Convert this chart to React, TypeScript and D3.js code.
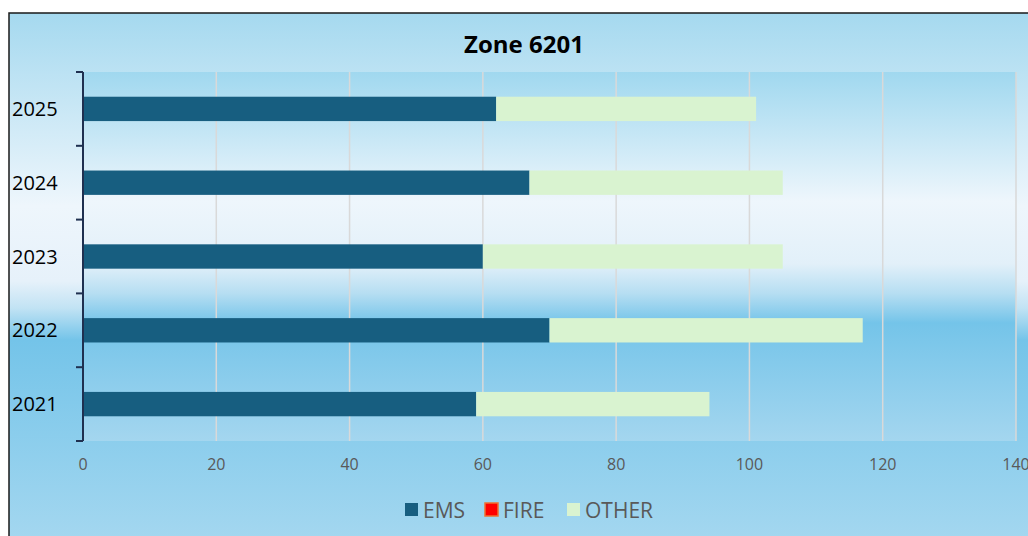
import { useEffect, useRef } from "react";
import * as d3 from "d3";

// data
const years = ["2021", "2022", "2023", "2024", "2025"];
const ems = [59, 70, 60, 67, 62];
const fire = [0, 0, 0, 0, 0];
const other = [35, 47, 45, 38, 39];
const xTicks = [0, 20, 40, 60, 80, 100, 120, 140];

const seriesNames = ["EMS", "FIRE", "OTHER"];
const seriesColors = ["#175e80", "#ff0000", "#d9f3d0"];

const W = 1028;
const H = 536;
const plot = { left: 83, right: 1016, top: 72, bottom: 441 };

function App() {
    const svgRef = useRef<SVGSVGElement>(null);

    useEffect(() => {
        const svg = d3.select(svgRef.current);
        svg.selectAll("*").remove();

        // ---------- gradients ----------
        const defs = svg.append("defs");
        const addGrad = (id: string, stops: [number, string][]) => {
            const g = defs
                .append("linearGradient")
                .attr("id", id)
                .attr("x1", 0)
                .attr("y1", 0)
                .attr("x2", 0)
                .attr("y2", 1);
            stops.forEach(([o, c]) => g.append("stop").attr("offset", o).attr("stop-color", c));
        };
        addGrad("bgGrad", [
            [0, "#a5d9ef"],
            [0.36, "#eef6fc"],
            [0.5, "#e6f1fa"],
            [0.55, "#c2e3f4"],
            [0.61, "#74c4e9"],
            [1, "#a6d8f0"],
        ]);
        addGrad("plotGrad", [
            [0, "#a0d8ef"],
            [0.35, "#eef6fc"],
            [0.52, "#e2f0f9"],
            [0.6, "#b6def2"],
            [0.68, "#74c4e9"],
            [1, "#a4d6ef"],
        ]);

        // chart background + border
        svg.append("rect")
            .attr("x", 9)
            .attr("y", 13)
            .attr("width", W + 10)
            .attr("height", H)
            .attr("fill", "url(#bgGrad)")
            .attr("stroke", "#1a1a1a")
            .attr("stroke-width", 1.5);

        // plot area
        svg.append("rect")
            .attr("x", plot.left)
            .attr("y", plot.top)
            .attr("width", plot.right - plot.left)
            .attr("height", plot.bottom - plot.top)
            .attr("fill", "url(#plotGrad)");

        // ---------- scales ----------
        const x = d3.scaleLinear().domain([0, 140]).range([plot.left, plot.right]);
        const y = d3
            .scaleBand()
            .domain(years.slice().reverse())
            .range([plot.top, plot.bottom])
            .paddingInner(0.67)
            .paddingOuter(0.335);

        // gridlines
        svg.append("g")
            .selectAll("line")
            .data(xTicks.slice(1))
            .enter()
            .append("line")
            .attr("x1", (d) => x(d))
            .attr("x2", (d) => x(d))
            .attr("y1", plot.top)
            .attr("y2", plot.bottom)
            .attr("stroke", "#d9d9d9")
            .attr("stroke-width", 1.5);

        // ---------- stacked bars ----------
        const rows = years.map((yr, i) => ({ year: yr, EMS: ems[i], FIRE: fire[i], OTHER: other[i] }));
        const stacked = d3.stack<any>().keys(seriesNames)(rows);

        svg.append("g")
            .selectAll("g")
            .data(stacked)
            .enter()
            .append("g")
            .attr("fill", (_d, i) => seriesColors[i])
            .selectAll("rect")
            .data((d) => d)
            .enter()
            .append("rect")
            .attr("x", (d) => x(d[0]))
            .attr("y", (d) => y(d.data.year) as number)
            .attr("width", (d) => x(d[1]) - x(d[0]))
            .attr("height", y.bandwidth());

        // ---------- x axis labels ----------
        svg.append("g")
            .selectAll("text")
            .data(xTicks)
            .enter()
            .append("text")
            .attr("x", (d) => x(d))
            .attr("y", 470)
            .attr("text-anchor", "middle")
            .attr("font-family", "'Open Sans', sans-serif")
            .attr("font-size", 16)
            .attr("fill", "#595959")
            .text((d) => d);

        // ---------- y axis ----------
        const yAxis = svg.append("g").attr("stroke", "#1f3050").attr("stroke-width", 2);
        yAxis.append("line")
            .attr("x1", plot.left)
            .attr("x2", plot.left)
            .attr("y1", plot.top)
            .attr("y2", plot.bottom);
        const step = (plot.bottom - plot.top) / years.length;
        yAxis.selectAll("line.tick")
            .data(d3.range(years.length + 1))
            .enter()
            .append("line")
            .attr("class", "tick")
            .attr("x1", plot.left - 7)
            .attr("x2", plot.left)
            .attr("y1", (d) => plot.top + d * step)
            .attr("y2", (d) => plot.top + d * step);

        svg.append("g")
            .selectAll("text")
            .data(years)
            .enter()
            .append("text")
            .attr("x", 12)
            .attr("y", (d) => (y(d) as number) + y.bandwidth() / 2)
            .attr("dy", "0.35em")
            .attr("font-family", "'Open Sans', sans-serif")
            .attr("font-size", 20)
            .attr("fill", "#000")
            .text((d) => d);

        // ---------- title ----------
        svg.append("text")
            .attr("x", 524)
            .attr("y", 53)
            .attr("text-anchor", "middle")
            .attr("font-family", "'Open Sans', sans-serif")
            .attr("font-weight", "bold")
            .attr("font-size", 24)
            .attr("fill", "#000")
            .text("Zone 6201");

        // ---------- legend ----------
        const legendX = [405, 485, 567];
        const lg = svg.append("g")
            .selectAll("g")
            .data(seriesNames)
            .enter()
            .append("g")
            .attr("transform", (_d, i) => `translate(${legendX[i]},503)`);
        lg.append("rect")
            .attr("width", 13)
            .attr("height", 13)
            .attr("fill", (_d, i) => seriesColors[i])
            .attr("stroke", (d) => (d === "FIRE" ? "#f07030" : "none"))
            .attr("stroke-width", 1.5);
        lg.append("text")
            .attr("x", 18)
            .attr("y", 15)
            .attr("font-family", "'Open Sans', sans-serif")
            .attr("font-size", 21)
            .attr("fill", "#595959")
            .text((d) => d);
    }, []);

    return (
        <svg
            ref={svgRef}
            width={W}
            height={H}
            style={{ position: "absolute", left: 0, top: 0, display: "block" }}
        ></svg>
    );
}

export default App;
